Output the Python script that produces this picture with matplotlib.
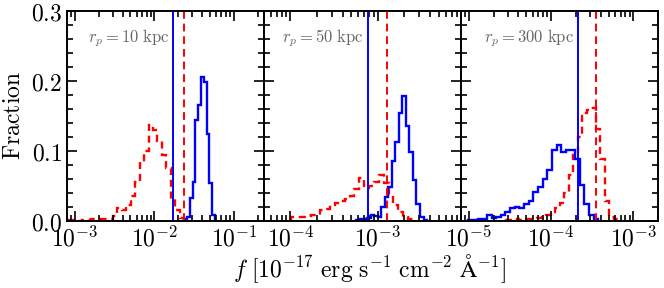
import numpy as np
import matplotlib
matplotlib.use('Agg')
import matplotlib.pyplot as plt
from matplotlib.ticker import FuncFormatter, MultipleLocator, LogLocator

plt.rcParams['mathtext.fontset'] = 'cm'

# panel labels and x ranges
panel_labels = [r'$r_p = 10\ \mathrm{kpc}$', r'$r_p = 50\ \mathrm{kpc}$', r'$r_p = 300\ \mathrm{kpc}$']
xlims = [(8e-4, 0.24), (5e-5, 9e-3), (8e-6, 2e-3)]

# red (dashed) histograms: log10 of first edge, bin width in dex, fractions
red_start = [-3.08, -3.99, -4.554]
red_width = [0.056, 0.0557, 0.0549]
red_frac = [
    [0.001, 0.001, 0.0, 0.001, 0.001, 0.002, 0.002, 0.002, 0.003, 0.003,
     0.007, 0.018, 0.016, 0.023, 0.036, 0.056, 0.084, 0.100, 0.137, 0.130,
     0.114, 0.094, 0.075, 0.031, 0.016, 0.004],
    [0.006, 0.006, 0.006, 0.007, 0.009, 0.009, 0.016, 0.017, 0.022, 0.025,
     0.028, 0.031, 0.036, 0.046, 0.062, 0.047, 0.050, 0.055, 0.065, 0.054,
     0.037, 0.022, 0.012, 0.006, 0.002],
    [0.001, 0.001, 0.002, 0.001, 0.002, 0.002, 0.003, 0.004,
     0.006, 0.009, 0.012, 0.018, 0.026, 0.040, 0.066, 0.094, 0.120, 0.154,
     0.158, 0.162, 0.132, 0.089, 0.028, 0.006, 0.002],
]

# blue (solid) histograms
blue_start = [-1.625, -3.243, -5.009]
blue_width = [0.0352, 0.0404, 0.0566]
blue_frac = [
    [0.002, 0.006, 0.033, 0.056, 0.144, 0.165, 0.205, 0.199, 0.124, 0.054, 0.009],
    [0.001, 0.002, 0.003, 0.004, 0.009, 0.007, 0.006, 0.020, 0.034, 0.049,
     0.085, 0.113, 0.154, 0.179, 0.135, 0.098, 0.059, 0.024, 0.005, 0.0015],
    [0.001, 0.001, 0.003, 0.002, 0.009, 0.004, 0.006, 0.009, 0.012, 0.019,
     0.020, 0.018, 0.024, 0.029, 0.042, 0.049, 0.060, 0.073, 0.102, 0.109,
     0.098, 0.102, 0.101, 0.088, 0.051, 0.024, 0.009, 0.002],
]

# vertical reference lines (flux values)
blue_vline = [0.0173, 7.8e-4, 2.11e-4]
red_vline = [0.0233, 1.28e-3, 3.47e-4]

label_x = [0.106, 0.09, 0.117]

fig, axes = plt.subplots(1, 3, figsize=(6.64, 2.88), dpi=100, sharey=True)
fig.subplots_adjust(left=0.101, right=0.991, top=0.962, bottom=0.233, wspace=0)

for i, ax in enumerate(axes):
    re = 10 ** (red_start[i] + red_width[i] * np.arange(len(red_frac[i]) + 1))
    be = 10 ** (blue_start[i] + blue_width[i] * np.arange(len(blue_frac[i]) + 1))
    ax.stairs(red_frac[i], re, color='red', lw=1.7, ls=(0, (3, 2)))
    ax.stairs(blue_frac[i], be, color='blue', lw=1.7)
    ax.axvline(blue_vline[i], color='blue', lw=1.4)
    ax.axvline(red_vline[i], color='red', lw=1.4, ls=(0, (4, 2.5)))
    ax.set_xscale('log')
    ax.set_xlim(*xlims[i])
    ax.set_ylim(0, 0.3)
    ax.xaxis.set_major_locator(LogLocator(base=10))
    ax.xaxis.set_minor_locator(LogLocator(base=10, subs=np.arange(2, 10)))
    ax.xaxis.set_major_formatter(FuncFormatter(lambda v, p: r'$10^{%d}$' % round(np.log10(v))))
    ax.xaxis.set_minor_formatter(FuncFormatter(lambda v, p: ''))
    ax.yaxis.set_major_locator(MultipleLocator(0.1))
    ax.yaxis.set_minor_locator(MultipleLocator(0.02))
    ax.yaxis.set_major_formatter(FuncFormatter(lambda v, p: r'$%.1f$' % v))
    ax.tick_params(which='both', direction='in', top=True, right=True, labelsize=17, width=1.2)
    ax.tick_params(which='major', length=7)
    ax.tick_params(which='minor', length=4)
    ax.tick_params(axis='x', pad=4)
    for s in ax.spines.values():
        s.set_linewidth(1.4)
    ax.text(label_x[i], 0.87, panel_labels[i], transform=ax.transAxes,
            color='0.4', fontsize=12, va='center')

axes[0].set_ylabel(r'$\mathrm{Fraction}$', fontsize=17)
fig.text(0.557, 0.012, r'$f\ [10^{-17}\ \mathrm{erg\ s^{-1}\ cm^{-2}\ \AA^{-1}}]$',
         ha='center', va='bottom', fontsize=17)

fig.savefig('out.png', dpi=100)
